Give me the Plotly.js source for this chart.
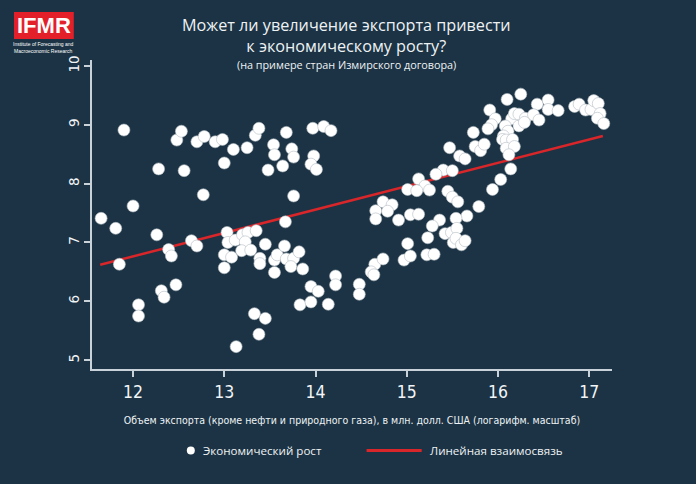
<!DOCTYPE html>
<html>
<head>
<meta charset="utf-8">
<script src="https://cdn.plot.ly/plotly-3.0.1.min.js"></script>
<style>
    html, body { margin: 0; padding: 0; background: #1b3344; }
    #chart { width: 696px; height: 484px; }
</style>
</head>
<body>
<div id="chart"></div>
<script>
// ─── Data ─────────────────────────────────────────────────────────────────────

// Log of non-oil exports (x) vs economic growth (y)
const exportLog = [
    11.90, 11.65, 12.00, 12.28, 12.48, 12.53, 12.56, 12.70, 12.78, 12.77,
    12.90, 12.98, 13.00, 13.10, 13.25, 13.34, 13.38, 13.54, 13.55, 13.48,
    13.64, 13.68, 13.74, 13.76, 13.76, 13.97, 13.98, 13.95, 14.01, 14.09,
    14.17,
    11.81, 12.26, 11.85, 12.06, 12.06, 12.31, 12.34, 12.47, 12.39, 12.42,
    12.64, 12.70, 13.03, 13.04, 13.12, 13.20, 13.26, 13.23, 13.35, 13.00,
    13.08, 13.00, 13.19, 13.29, 13.45, 13.39, 13.39, 13.55, 13.55, 13.58,
    13.66, 13.67, 13.68, 13.76, 13.82, 13.73, 13.86, 13.33, 13.45, 13.38,
    13.13, 13.83, 13.95, 13.95, 14.03, 14.14, 14.22, 14.22, 14.48, 14.48,
    14.66, 14.66, 14.65, 14.61, 14.64,
    16.10, 16.25, 16.43, 16.55, 16.55, 16.66, 16.84, 16.89, 16.96, 17.02,
    17.05, 17.10, 17.12, 17.09, 17.16, 15.91, 15.97, 15.93, 15.89, 16.15,
    16.18, 16.23, 16.30, 16.39, 16.45, 16.23, 16.29, 16.08, 16.11, 15.73,
    15.75, 15.81, 15.85, 16.06, 16.05, 16.09, 16.16, 16.09, 16.18, 16.12,
    16.14, 16.03, 15.94, 15.79, 15.47, 15.58, 15.64, 15.40, 15.50, 15.32,
    15.13, 15.20, 15.25, 15.01, 15.11, 15.45, 15.50, 15.56, 15.66, 14.74,
    14.84, 14.79, 15.04, 15.13, 15.36, 15.54, 14.91,
    15.28, 15.23, 15.42, 15.49, 15.55, 15.01, 15.51, 15.54, 15.60, 15.64,
    14.97, 15.04, 15.22, 15.30, 14.74,
];
const growth = [
    8.91, 7.41, 7.62, 8.25, 8.74, 8.89, 8.22, 8.71, 8.80, 7.81,
    8.71, 8.75, 8.35, 8.58, 8.61, 8.82, 8.94, 8.66, 8.49, 8.23,
    8.30, 8.87, 8.59, 8.45, 7.79, 8.94, 8.47, 8.33, 8.24, 8.97,
    8.90,
    7.24, 7.13, 6.63, 5.94, 5.75, 6.18, 6.07, 6.28, 6.88, 6.77,
    7.03, 6.94, 7.17, 7.00, 7.04, 7.13, 7.17, 7.01, 7.20, 6.79,
    6.75, 6.57, 6.86, 6.87, 6.97, 6.73, 6.64, 6.49, 6.70, 6.79,
    6.94, 7.35, 6.72, 6.73, 6.84, 6.59, 6.55, 5.79, 5.71, 5.44,
    5.23, 5.94, 5.99, 6.25, 6.17, 5.95, 6.43, 6.28, 6.29, 6.12,
    7.54, 7.40, 6.63, 6.50, 6.45,
    9.43, 9.52, 9.35, 9.42, 9.26, 9.24, 9.31, 9.35, 9.25, 9.26,
    9.41, 9.36, 9.19, 9.11, 9.02, 9.25, 9.10, 9.00, 8.93, 9.10,
    9.19, 9.18, 9.11, 9.17, 9.08, 8.98, 9.04, 8.98, 8.89, 8.87,
    8.63, 8.56, 8.67, 8.81, 8.75, 8.74, 8.75, 8.60, 8.63, 8.49,
    8.25, 8.07, 7.90, 7.61, 8.61, 8.47, 8.42, 8.23, 8.22, 8.16,
    8.08, 7.96, 7.89, 7.90, 7.88, 7.87, 7.77, 7.69, 7.45, 7.69,
    7.64, 7.53, 7.47, 7.48, 7.38, 7.41, 7.38,
    7.28, 7.08, 7.15, 7.17, 7.24, 6.98, 7.00, 7.07, 6.96, 7.03,
    6.70, 6.77, 6.79, 6.80, 6.72,
];

// Fitted line end points
const fitX = [11.64, 17.15];
const fitY = [6.62, 8.81];

const xTicks = [12, 13, 14, 15, 16, 17];
const yTicks = [5, 6, 7, 8, 9, 10];

const pointName = 'Экономический рост';
const lineName = 'Линейная взаимосвязь';

// ─── Style ────────────────────────────────────────────────────────────────────

const BG = '#1b3344';
const AXIS = '#c9d2d9';
const RED = '#d8262a';
const NARROW = '"Liberation Sans Narrow", "DejaVu Sans Condensed", sans-serif';
const SANS = '"Open Sans", "Noto Sans", sans-serif';
const TEXT = '#eef2f4';

// ─── Traces ───────────────────────────────────────────────────────────────────

const traces = [
    {
        type: 'scatter', mode: 'lines',
        x: fitX, y: fitY,
        name: lineName,
        line: { color: RED, width: 2.5 },
        hoverinfo: 'skip',
    },
    {
        type: 'scatter', mode: 'markers',
        x: exportLog, y: growth,
        name: pointName,
        marker: { color: '#ffffff', size: 12, line: { color: '#b4bcc2', width: 0.6 } },
    },
];

// ─── Header, logo & legend (drawn by hand, paper coords) ──────────────────────

const legY = -0.264;

const shapes = [
    // logo box
    { type: 'rect', xref: 'paper', yref: 'paper', x0: -0.150, x1: -0.035, y0: 1.068, y1: 1.155,
      fillcolor: '#e3202a', line: { width: 0 } },
    // legend marker
    { type: 'circle', xref: 'paper', yref: 'paper', xsizemode: 'pixel', ysizemode: 'pixel',
      xanchor: 0.190, yanchor: legY, x0: -4, x1: 4, y0: -4, y1: 4,
      fillcolor: '#ffffff', line: { width: 0 } },
    // legend line
    { type: 'line', xref: 'paper', yref: 'paper', x0: 0.528, x1: 0.634, y0: legY, y1: legY,
      line: { color: RED, width: 3 } },
];

function note(text, x, y, size, extra) {
    return Object.assign({
        text: text, xref: 'paper', yref: 'paper', x: x, y: y,
        xanchor: 'center', yanchor: 'middle', showarrow: false, borderpad: 0,
        font: { family: SANS, size: size, color: TEXT },
    }, extra || {});
}

const annotations = [
    note('Может ли увеличение экспорта привести<br>к экономическому росту?', 0.4885, 1.0796, 16.2),
    note('(на примере стран Измирского договора)', 0.4885, 0.9854, 10.8),
    note('<b>IFMR</b>', -0.0925, 1.111, 22,
         { font: { family: '"Liberation Sans", Arial, sans-serif', size: 22, color: '#ffffff' } }),
    note('Institute of Forecasting and<br>Macroeconomic Research', -0.0925, 1.039, 5,
         { font: { family: '"Liberation Sans", Arial, sans-serif', size: 5, color: '#ffffff' } }),
    note(pointName, 0.211, legY, 11.6, { xanchor: 'left' }),
    note(lineName, 0.648, legY, 11.6, { xanchor: 'left' }),
];

// ─── Layout ───────────────────────────────────────────────────────────────────

const layout = {
    width: 696,
    height: 484,
    paper_bgcolor: BG,
    plot_bgcolor: BG,
    margin: { l: 92, r: 84, t: 60, b: 115 },
    showlegend: false,
    font: { family: SANS, color: TEXT },
    xaxis: {
        range: [11.55, 17.25],
        tickvals: xTicks,
        ticks: 'outside', ticklen: 6, tickwidth: 2, tickcolor: AXIS,
        showline: true, linecolor: AXIS, linewidth: 2,
        showgrid: false, zeroline: false,
        tickfont: { family: NARROW, size: 17.5, color: '#f2f5f7' },
        title: {
            text: 'Объем экспорта (кроме нефти и природного газа), в млн. долл. США (логарифм. масштаб)',
            font: { family: NARROW, size: 10.5, color: TEXT },
            standoff: 16,
        },
    },
    yaxis: {
        range: [4.85, 10.1],
        tickvals: yTicks,
        tickangle: -90,
        ticks: 'outside', ticklen: 6, tickwidth: 2, tickcolor: AXIS,
        showline: true, linecolor: AXIS, linewidth: 2,
        showgrid: false, zeroline: false,
        tickfont: { family: '"DejaVu Sans", sans-serif', size: 13.5, color: '#f2f5f7' },
    },
    shapes: shapes,
    annotations: annotations,
};

Plotly.newPlot('chart', traces, layout, { displayModeBar: false, staticPlot: true });
</script>
</body>
</html>
